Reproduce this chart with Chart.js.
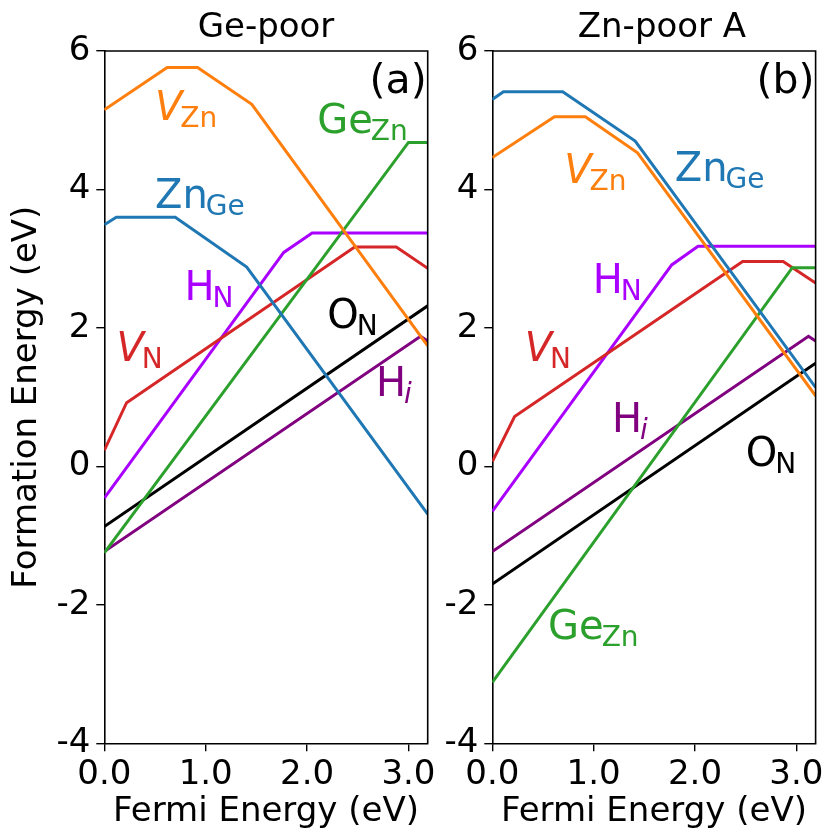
<!DOCTYPE html>
<html>
<head>
<meta charset="utf-8">
<script src="https://cdn.jsdelivr.net/npm/chart.js@4.4.1/dist/chart.umd.min.js"></script>
<style>
  html, body { margin: 0; padding: 0; background: #fff; overflow: hidden; }
  #fig { position: relative; width: 827px; height: 839px; }
  #fig canvas { position: absolute; top: 0; }
  #panelA { left: 0; }
  #panelB { left: 430px; }
</style>
</head>
<body>
<div id="fig">
  <canvas id="panelA" width="460" height="839"></canvas>
  <canvas id="panelB" width="397" height="839"></canvas>
</div>
<script>
const FONT = 'DejaVu Sans';
const EF_MAX = 3.19;

const fermiTicks = [0, 1, 2, 3];
const energyTicks = [-4, -2, 0, 2, 4, 6];

// Ge-poor: [Fermi level, formation energy] at each transition
const gePoorVZn  = [[0, 5.15], [0.62, 5.76], [0.92, 5.76], [1.455, 5.23], [3.19, 1.74]];
const gePoorZnGe = [[0, 3.49], [0.118, 3.60], [0.70, 3.60], [1.405, 2.88], [3.19, -0.69]];
const gePoorGeZn = [[0, -1.25], [3.0, 4.68], [3.19, 4.68]];
const gePoorVN   = [[0, 0.23], [0.22, 0.92], [2.47, 3.17], [2.88, 3.17], [3.19, 2.86]];
const gePoorHN   = [[0, -0.46], [1.77, 3.09], [2.05, 3.37], [3.19, 3.37]];
const gePoorHi   = [[0, -1.23], [3.12, 1.88], [3.19, 1.81]];
const gePoorON   = [[0, -0.87], [3.19, 2.32]];

// Zn-poor A
const znPoorVZn  = [[0, 4.46], [0.613, 5.05], [0.918, 5.05], [1.433, 4.53], [3.19, 1.02]];
const znPoorZnGe = [[0, 5.30], [0.11, 5.41], [0.695, 5.41], [1.41, 4.70], [3.19, 1.14]];
const znPoorGeZn = [[0, -3.12], [2.96, 2.87], [3.19, 2.87]];
const znPoorVN   = [[0, 0.07], [0.22, 0.72], [2.47, 2.96], [2.87, 2.96], [3.19, 2.65]];
const znPoorHN   = [[0, -0.65], [1.77, 2.91], [2.03, 3.18], [3.19, 3.18]];
const znPoorHi   = [[0, -1.23], [3.12, 1.88], [3.19, 1.81]];
const znPoorON   = [[0, -1.70], [3.19, 1.49]];

const colors = {
  VZn: '#ff7f0e', ZnGe: '#1f77b4', GeZn: '#2ca02c', VN: '#d62728',
  HN: '#aa00ff', Hi: '#800080', ON: '#000000'
};

// text labels: main symbol + subscript, anchored in data coordinates
const gePoorLabels = [
  { main: 'V', sub: 'Zn', italic: true, key: 'VZn', at: [0.50, 5.01] },
  { main: 'Ge', sub: 'Zn', key: 'GeZn', at: [2.10, 4.82] },
  { main: 'Zn', sub: 'Ge', key: 'ZnGe', at: [0.50, 3.73] },
  { main: 'H', sub: 'N', key: 'HN', at: [0.79, 2.41] },
  { main: 'O', sub: 'N', key: 'ON', at: [2.20, 2.00] },
  { main: 'V', sub: 'N', italic: true, key: 'VN', at: [0.12, 1.52] },
  { main: 'H', sub: 'i', subItalic: true, key: 'Hi', at: [2.68, 1.01] }
];
const znPoorLabels = [
  { main: 'V', sub: 'Zn', italic: true, key: 'VZn', at: [0.71, 4.10] },
  { main: 'Zn', sub: 'Ge', key: 'ZnGe', at: [1.80, 4.12] },
  { main: 'H', sub: 'N', key: 'HN', at: [0.99, 2.51] },
  { main: 'V', sub: 'N', italic: true, key: 'VN', at: [0.32, 1.52] },
  { main: 'H', sub: 'i', subItalic: true, key: 'Hi', at: [1.18, 0.49] },
  { main: 'O', sub: 'N', key: 'ON', at: [2.50, 0.00] },
  { main: 'Ge', sub: 'Zn', key: 'GeZn', at: [0.55, -2.50] }
];

const toXY = pts => pts.map(([x, y]) => ({ x, y }));

function lineSet(key, pts) {
  return {
    data: toXY(pts),
    borderColor: colors[key],
    backgroundColor: colors[key],
    borderWidth: 3,
    pointRadius: 0,
    tension: 0,
    fill: false
  };
}

const decorate = {
  id: 'decorate',
  afterDatasetsDraw(chart, args, opts) {
    const { ctx, chartArea: a, scales: { x, y } } = chart;
    ctx.save();
    // top and right spines
    ctx.strokeStyle = '#000';
    ctx.lineWidth = 1.6;
    ctx.beginPath();
    ctx.moveTo(a.left, a.top);
    ctx.lineTo(a.right, a.top);
    ctx.lineTo(a.right, a.bottom);
    ctx.stroke();

    // defect labels
    ctx.textAlign = 'left';
    ctx.textBaseline = 'alphabetic';
    opts.labels.forEach(l => {
      const px = x.getPixelForValue(l.at[0]);
      const py = y.getPixelForValue(l.at[1]);
      ctx.fillStyle = colors[l.key];
      ctx.font = (l.italic ? 'italic ' : '') + '40px "' + FONT + '"';
      ctx.fillText(l.main, px, py);
      const w = ctx.measureText(l.main).width;
      ctx.font = (l.subItalic ? 'italic ' : '') + '28px "' + FONT + '"';
      ctx.fillText(l.sub, px + w - 2, py + 7);
    });

    // panel letter
    ctx.fillStyle = '#000';
    ctx.font = '41px "' + FONT + '"';
    ctx.textAlign = 'right';
    ctx.fillText(opts.letter, a.right - 1, 93);

    // panel title
    ctx.font = '34px "' + FONT + '"';
    ctx.textAlign = 'center';
    ctx.fillText(opts.title, (a.left + a.right) / 2 + (opts.titleShift || 0), 37);
    ctx.restore();
  }
};

function makePanel(id, sets, cfg) {
  new Chart(document.getElementById(id), {
    type: 'line',
    data: { datasets: sets },
    options: {
      responsive: false,
      animation: false,
      layout: { padding: { left: 0, right: cfg.padRight, top: 51, bottom: 0 } },
      plugins: {
        legend: { display: false },
        tooltip: { enabled: false },
        decorate: cfg.decorate
      },
      scales: {
        x: {
          type: 'linear',
          min: 0,
          max: EF_MAX,
          afterBuildTicks: s => { s.ticks = fermiTicks.map(v => ({ value: v })); },
          afterFit: s => { s.height = 95.7; },
          ticks: {
            color: '#000',
            font: { family: FONT, size: 34 },
            padding: 3,
            maxRotation: 0,
            callback: v => v.toFixed(1)
          },
          grid: { drawOnChartArea: false, drawTicks: true, tickLength: 8, color: '#000', lineWidth: 1.4 },
          border: { display: true, color: '#000', width: 1.6 },
          title: {
            display: true,
            text: 'Fermi Energy (eV)',
            color: '#000',
            font: { family: FONT, size: 34 },
            padding: { top: 0, bottom: 6 }
          }
        },
        y: {
          min: -4,
          max: 6,
          afterBuildTicks: s => { s.ticks = energyTicks.map(v => ({ value: v })); },
          afterFit: s => { s.width = cfg.yWidth; },
          ticks: {
            color: '#000',
            font: { family: FONT, size: 34 },
            padding: 6,
            callback: v => String(v)
          },
          grid: { drawOnChartArea: false, drawTicks: true, tickLength: 8, color: '#000', lineWidth: 1.4 },
          border: { display: true, color: '#000', width: 1.6 },
          title: {
            display: !!cfg.yTitle,
            text: cfg.yTitle || '',
            color: '#000',
            font: { family: FONT, size: 34 },
            padding: { top: 7, bottom: 0 }
          }
        }
      }
    },
    plugins: [decorate]
  });
}

makePanel('panelA', [
  lineSet('VZn', gePoorVZn), lineSet('ZnGe', gePoorZnGe), lineSet('GeZn', gePoorGeZn),
  lineSet('VN', gePoorVN), lineSet('HN', gePoorHN), lineSet('Hi', gePoorHi), lineSet('ON', gePoorON)
], {
  padRight: 32.3,
  yWidth: 104.3,
  yTitle: 'Formation Energy (eV)',
  decorate: { labels: gePoorLabels, letter: '(a)', title: 'Ge-poor' }
});

makePanel('panelB', [
  lineSet('VZn', znPoorVZn), lineSet('ZnGe', znPoorZnGe), lineSet('GeZn', znPoorGeZn),
  lineSet('VN', znPoorVN), lineSet('HN', znPoorHN), lineSet('Hi', znPoorHi), lineSet('ON', znPoorON)
], {
  padRight: 10.3,
  yWidth: 62.3,
  decorate: { labels: znPoorLabels, letter: '(b)', title: 'Zn-poor A', titleShift: 8 }
});
</script>
</body>
</html>
